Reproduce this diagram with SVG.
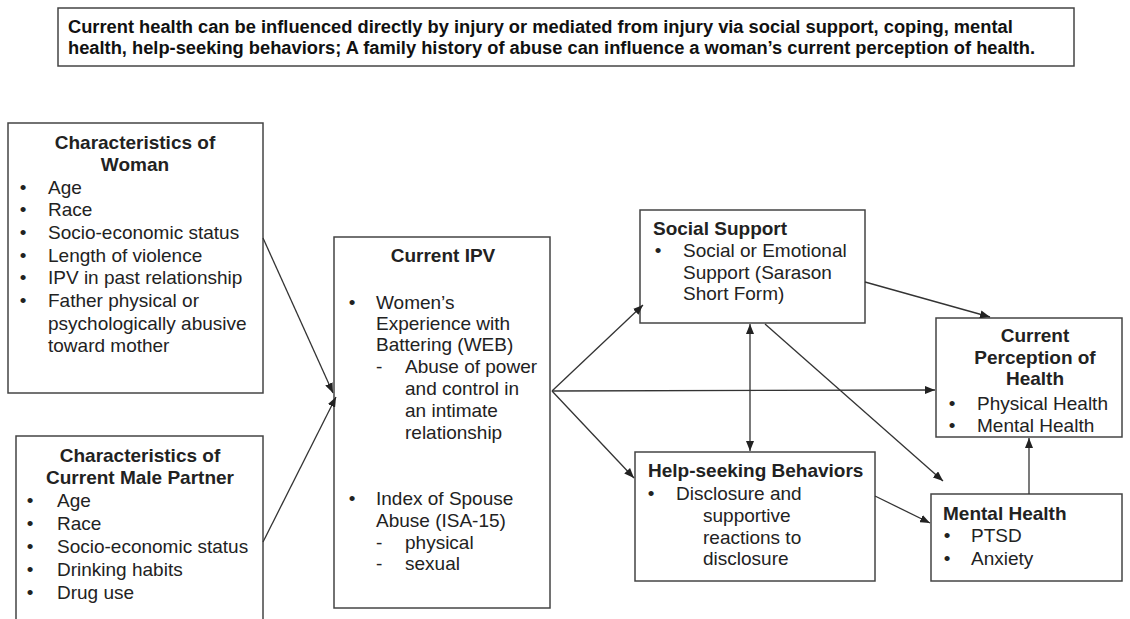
<svg xmlns="http://www.w3.org/2000/svg" width="1130" height="619" viewBox="0 0 1130 619">
<style>
.box{fill:#fff;stroke:#444;stroke-width:1.5}
.t{font-family:"Liberation Sans",Arial,sans-serif;font-size:19px;fill:#222}
.b{font-weight:bold}
.c{text-anchor:middle}
.top{font-family:"Liberation Sans",Arial,sans-serif;font-size:18.3px;font-weight:bold;fill:#111}
.con{fill:none;stroke:#333;stroke-width:1.3}
</style>
<defs>
<marker id="ah" markerUnits="userSpaceOnUse" markerWidth="10" markerHeight="8" refX="10" refY="4" orient="auto-start-reverse">
<path d="M0,0 L10,4 L0,8 z" fill="#222"/>
</marker>
</defs>
<rect width="1130" height="619" fill="#fff"/>

<g id="summary">
<rect class="box" x="58" y="8" width="1016" height="58"/>
<text class="top" x="68" y="33">Current health can be influenced directly by injury or mediated from injury via social support, coping, mental</text>
<text class="top" x="68" y="54">health, help-seeking behaviors; A family history of abuse can influence a woman’s current perception of health.</text>
</g>

<g id="woman">
<rect class="box" x="8" y="123" width="255" height="270"/>
<text class="t b c" x="135" y="149">Characteristics of</text>
<text class="t b c" x="135" y="171">Woman</text>
<text class="t c" x="23" y="194">•</text><text class="t" x="48" y="194">Age</text>
<text class="t c" x="23" y="216">•</text><text class="t" x="48" y="216">Race</text>
<text class="t c" x="23" y="239">•</text><text class="t" x="48" y="239">Socio-economic status</text>
<text class="t c" x="23" y="262">•</text><text class="t" x="48" y="262">Length of violence</text>
<text class="t c" x="23" y="284">•</text><text class="t" x="48" y="284">IPV in past relationship</text>
<text class="t c" x="23" y="307">•</text><text class="t" x="48" y="307">Father physical or</text>
<text class="t" x="48" y="330">psychologically abusive</text>
<text class="t" x="48" y="352">toward mother</text>
</g>

<g id="partner">
<rect class="box" x="16" y="436" width="247" height="200"/>
<text class="t b c" x="140" y="462">Characteristics of</text>
<text class="t b c" x="140" y="484">Current Male Partner</text>
<text class="t c" x="30" y="507">•</text><text class="t" x="57" y="507">Age</text>
<text class="t c" x="30" y="530">•</text><text class="t" x="57" y="530">Race</text>
<text class="t c" x="30" y="553">•</text><text class="t" x="57" y="553">Socio-economic status</text>
<text class="t c" x="30" y="576">•</text><text class="t" x="57" y="576">Drinking habits</text>
<text class="t c" x="30" y="599">•</text><text class="t" x="57" y="599">Drug use</text>
</g>

<g id="ipv">
<rect class="box" x="334" y="237" width="216" height="371"/>
<text class="t b c" x="443" y="262">Current IPV</text>
<text class="t c" x="352" y="309">•</text><text class="t" x="376" y="309">Women’s</text>
<text class="t" x="376" y="330">Experience with</text>
<text class="t" x="376" y="351">Battering (WEB)</text>
<text class="t" x="376" y="373">-</text><text class="t" x="405" y="373">Abuse of power</text>
<text class="t" x="405" y="395">and control in</text>
<text class="t" x="405" y="417">an intimate</text>
<text class="t" x="405" y="439">relationship</text>
<text class="t c" x="352" y="505">•</text><text class="t" x="376" y="505">Index of Spouse</text>
<text class="t" x="376" y="527">Abuse (ISA-15)</text>
<text class="t" x="376" y="549">-</text><text class="t" x="405" y="549">physical</text>
<text class="t" x="376" y="570">-</text><text class="t" x="405" y="570">sexual</text>
</g>

<g id="social">
<rect class="box" x="640" y="210" width="225" height="113"/>
<text class="t b" x="653" y="235">Social Support</text>
<text class="t c" x="658" y="257">•</text><text class="t" x="683" y="257">Social or Emotional</text>
<text class="t" x="683" y="279">Support (Sarason</text>
<text class="t" x="683" y="300">Short Form)</text>
</g>

<g id="help">
<rect class="box" x="635" y="452" width="240" height="129"/>
<text class="t b" x="648" y="477">Help-seeking Behaviors</text>
<text class="t c" x="651" y="500">•</text><text class="t" x="676" y="500">Disclosure and</text>
<text class="t" x="703" y="522">supportive</text>
<text class="t" x="703" y="544">reactions to</text>
<text class="t" x="703" y="565">disclosure</text>
</g>

<g id="perception">
<rect class="box" x="936" y="318" width="186" height="119"/>
<text class="t b c" x="1035" y="342">Current</text>
<text class="t b c" x="1035" y="364">Perception of</text>
<text class="t b c" x="1035" y="385">Health</text>
<text class="t c" x="952" y="410">•</text><text class="t" x="977" y="410">Physical Health</text>
<text class="t c" x="952" y="432">•</text><text class="t" x="977" y="432">Mental Health</text>
</g>

<g id="mental">
<rect class="box" x="931" y="494" width="191" height="87"/>
<text class="t b" x="943" y="520">Mental Health</text>
<text class="t c" x="947" y="542">•</text><text class="t" x="971" y="542">PTSD</text>
<text class="t c" x="947" y="565">•</text><text class="t" x="971" y="565">Anxiety</text>
</g>

<g id="connectors">
<line class="con" x1="263" y1="238" x2="333" y2="393" marker-end="url(#ah)"/>
<line class="con" x1="263" y1="542" x2="336" y2="397" marker-end="url(#ah)"/>
<line class="con" x1="552" y1="391" x2="643" y2="305" marker-end="url(#ah)"/>
<line class="con" x1="552" y1="391" x2="935" y2="390" marker-end="url(#ah)"/>
<line class="con" x1="552" y1="391" x2="634" y2="478" marker-end="url(#ah)"/>
<line class="con" x1="865" y1="282" x2="990" y2="317" marker-end="url(#ah)"/>
<line class="con" x1="750" y1="324" x2="750" y2="451" marker-start="url(#ah)" marker-end="url(#ah)"/>
<line class="con" x1="765" y1="324" x2="943" y2="481" marker-end="url(#ah)"/>
<line class="con" x1="875" y1="496" x2="930" y2="523" marker-end="url(#ah)"/>
<line class="con" x1="1029" y1="494" x2="1029" y2="438" marker-end="url(#ah)"/>
</g>
</svg>
